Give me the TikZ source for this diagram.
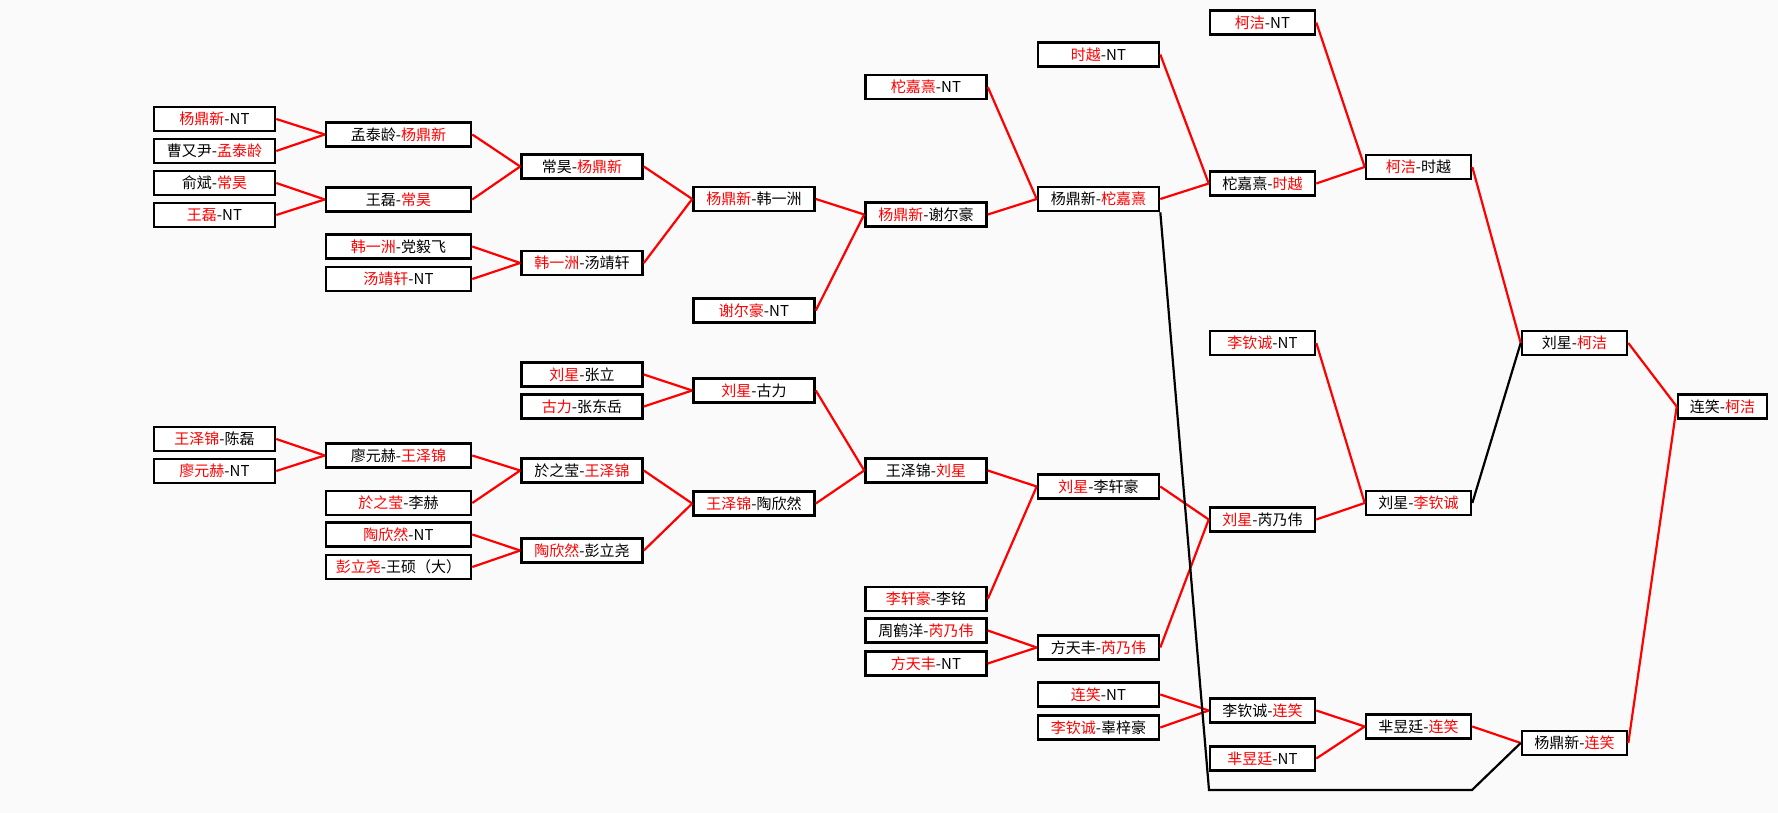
\documentclass[tikz,border=0pt]{standalone}
\usepackage{fontspec}
\setmainfont{Noto Sans CJK SC}
\usepackage{tikz}
\newcommand{\wn}[1]{\textcolor{red}{#1}}

\begin{document}
\begin{tikzpicture}[x=1pt,y=-1pt,
  box/.style={draw, line width=2.6pt, fill=white, minimum height=24pt, inner sep=0pt, font=\fontsize{15pt}{18pt}\selectfont},
  wa/.style={box, minimum width=121pt},
  wb/.style={box, minimum width=145pt},
  wc/.style={box, minimum width=105pt},
  wd/.style={box, minimum width=89pt},
  lk/.style={red, line width=2.2pt},
  lb/.style={black, line width=2.2pt}]
\fill[white!98!black] (0,0) rectangle (1778,813);
\useasboundingbox (0,0) rectangle (1778,813);

\node[wa] (c1a) at (214.5,119) {\wn{杨鼎新}-NT};
\node[wa] (c1b) at (214.5,151) {曹又尹-\wn{孟泰龄}};
\node[wa] (c1c) at (214.5,183) {俞斌-\wn{常昊}};
\node[wa] (c1d) at (214.5,215) {\wn{王磊}-NT};
\node[wb] (c2a) at (398.5,134.5) {孟泰龄-\wn{杨鼎新}};
\node[wb] (c2b) at (398.5,199.5) {王磊-\wn{常昊}};
\node[wb] (c2c) at (398.5,246.5) {\wn{韩一洲}-党毅飞};
\node[wb] (c2d) at (398.5,279) {\wn{汤靖轩}-NT};
\node[wa] (c3a) at (582,166.5) {常昊-\wn{杨鼎新}};
\node[wa] (c3b) at (582,263) {\wn{韩一洲}-汤靖轩};
\node[wa] (c4a) at (754,199) {\wn{杨鼎新}-韩一洲};
\node[wa] (c4b) at (754,310.5) {\wn{谢尔豪}-NT};
\node[wa] (c5b) at (926,87) {\wn{柁嘉熹}-NT};
\node[wa] (c5a) at (926,214.5) {\wn{杨鼎新}-谢尔豪};
\node[wa] (c6b) at (1098.5,54.5) {\wn{时越}-NT};
\node[wa] (c6a) at (1098.5,199) {杨鼎新-\wn{柁嘉熹}};
\node[wc] (c7b) at (1262.5,22.5) {\wn{柯洁}-NT};
\node[wc] (c7a) at (1262.5,183.5) {柁嘉熹-\wn{时越}};
\node[wc] (c8a) at (1418.5,167) {\wn{柯洁}-时越};
\node[wc] (c9a) at (1574.5,343) {刘星-\wn{柯洁}};
\node[wd] (c10) at (1722.5,406.5) {连笑-\wn{柯洁}};

\node[wa] (l1a) at (214.5,439) {\wn{王泽锦}-陈磊};
\node[wa] (l1b) at (214.5,471) {\wn{廖元赫}-NT};
\node[wb] (l2a) at (398.5,455.5) {廖元赫-\wn{王泽锦}};
\node[wb] (l2b) at (398.5,503) {\wn{於之莹}-李赫};
\node[wb] (l2c) at (398.5,534.5) {\wn{陶欣然}-NT};
\node[wb] (l2d) at (398.5,567) {\wn{彭立尧}-王硕（大）};
\node[wa] (l3c) at (582,374.5) {\wn{刘星}-张立};
\node[wa] (l3d) at (582,406.5) {\wn{古力}-张东岳};
\node[wa] (l3a) at (582,470.5) {於之莹-\wn{王泽锦}};
\node[wa] (l3b) at (582,550.5) {\wn{陶欣然}-彭立尧};
\node[wa] (l4a) at (754,390.5) {\wn{刘星}-古力};
\node[wa] (l4b) at (754,503.5) {\wn{王泽锦}-陶欣然};
\node[wa] (l5a) at (926,470.5) {王泽锦-\wn{刘星}};
\node[wa] (l5b) at (926,599) {\wn{李轩豪}-李铭};
\node[wa] (l5c) at (926,630.5) {周鹤洋-\wn{芮乃伟}};
\node[wa] (l5d) at (926,663.5) {\wn{方天丰}-NT};
\node[wa] (l6a) at (1098.5,486.5) {\wn{刘星}-李轩豪};
\node[wa] (l6b) at (1098.5,647.5) {方天丰-\wn{芮乃伟}};
\node[wc] (l7b) at (1262.5,343) {\wn{李钦诚}-NT};
\node[wc] (l7a) at (1262.5,519.5) {\wn{刘星}-芮乃伟};
\node[wc] (c8b) at (1418.5,503) {刘星-\wn{李钦诚}};

\node[wa] (m6a) at (1098.5,694.5) {\wn{连笑}-NT};
\node[wa] (m6b) at (1098.5,727.5) {\wn{李钦诚}-辜梓豪};
\node[wc] (m7a) at (1262.5,710.5) {李钦诚-\wn{连笑}};
\node[wc] (m7b) at (1262.5,758.5) {\wn{芈昱廷}-NT};
\node[wc] (m8a) at (1418.5,726.5) {芈昱廷-\wn{连笑}};
\node[wc] (c9b) at (1574.5,743) {杨鼎新-\wn{连笑}};

\draw[lk] (c1a.east) -- (c2a.west);
\draw[lk] (c1b.east) -- (c2a.west);
\draw[lk] (c1c.east) -- (c2b.west);
\draw[lk] (c1d.east) -- (c2b.west);
\draw[lk] (c2a.east) -- (c3a.west);
\draw[lk] (c2b.east) -- (c3a.west);
\draw[lk] (c2c.east) -- (c3b.west);
\draw[lk] (c2d.east) -- (c3b.west);
\draw[lk] (c3a.east) -- (c4a.west);
\draw[lk] (c3b.east) -- (c4a.west);
\draw[lk] (c4a.east) -- (c5a.west);
\draw[lk] (c4b.east) -- (c5a.west);
\draw[lk] (c5b.east) -- (c6a.west);
\draw[lk] (c5a.east) -- (c6a.west);
\draw[lk] (c6b.east) -- (c7a.west);
\draw[lk] (c6a.east) -- (c7a.west);
\draw[lk] (c7b.east) -- (c8a.west);
\draw[lk] (c7a.east) -- (c8a.west);
\draw[lk] (c8a.east) -- (c9a.west);
\draw[lb] (c8b.east) -- (c9a.west);
\draw[lk] (c9a.east) -- (c10.west);
\draw[lk] (c9b.east) -- (c10.west);

\draw[lk] (l1a.east) -- (l2a.west);
\draw[lk] (l1b.east) -- (l2a.west);
\draw[lk] (l2a.east) -- (l3a.west);
\draw[lk] (l2b.east) -- (l3a.west);
\draw[lk] (l2c.east) -- (l3b.west);
\draw[lk] (l2d.east) -- (l3b.west);
\draw[lk] (l3c.east) -- (l4a.west);
\draw[lk] (l3d.east) -- (l4a.west);
\draw[lk] (l3a.east) -- (l4b.west);
\draw[lk] (l3b.east) -- (l4b.west);
\draw[lk] (l4a.east) -- (l5a.west);
\draw[lk] (l4b.east) -- (l5a.west);
\draw[lk] (l5a.east) -- (l6a.west);
\draw[lk] (l5b.east) -- (l6a.west);
\draw[lk] (l5c.east) -- (l6b.west);
\draw[lk] (l5d.east) -- (l6b.west);
\draw[lk] (l6a.east) -- (l7a.west);
\draw[lk] (l6b.east) -- (l7a.west);
\draw[lk] (l7b.east) -- (c8b.west);
\draw[lk] (l7a.east) -- (c8b.west);

\draw[lk] (m6a.east) -- (m7a.west);
\draw[lk] (m6b.east) -- (m7a.west);
\draw[lk] (m7a.east) -- (m8a.west);
\draw[lk] (m7b.east) -- (m8a.west);
\draw[lk] (m8a.east) -- (c9b.west);

\coordinate (dn) at (1209,790);
\coordinate (rt) at (1472,790);
\draw[lb] (c6a.south east) -- (dn) -- (rt) -- (c9b.west);
\end{tikzpicture}
\end{document}
